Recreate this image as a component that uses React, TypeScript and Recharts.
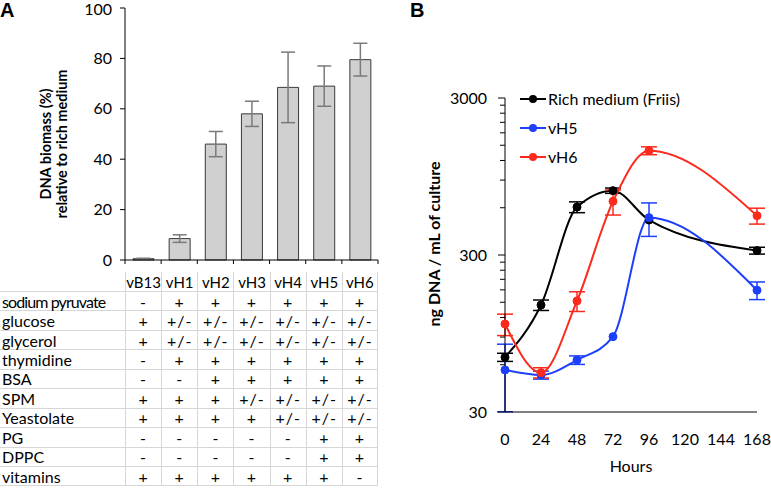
import React from "react";
import {
  BarChart,
  Bar,
  XAxis,
  YAxis,
  ErrorBar,
  LineChart,
  Line,
} from "recharts";

// panel A: biomass relative to rich medium
const categories = ["vB13", "vH1", "vH2", "vH3", "vH4", "vH5", "vH6"];
const biomass = [0.5, 8.5, 46, 58, 68.5, 69, 79.5];
const biomassErr = [0.2, 1.5, 5, 5, 14, 8, 6.5];
const biomassTicks = [0, 20, 40, 60, 80, 100];

// medium composition table
const components = [
  "sodium pyruvate",
  "glucose",
  "glycerol",
  "thymidine",
  "BSA",
  "SPM",
  "Yeastolate",
  "PG",
  "DPPC",
  "vitamins",
];
const composition = [
  ["-", "+", "+", "+", "+", "+", "+"],
  ["+", "+/-", "+/-", "+/-", "+/-", "+/-", "+/-"],
  ["+", "+/-", "+/-", "+/-", "+/-", "+/-", "+/-"],
  ["-", "+", "+", "+", "+", "+", "+"],
  ["-", "-", "+", "+", "+", "+", "+"],
  ["+", "+", "+", "+/-", "+/-", "+/-", "+/-"],
  ["+", "+", "+", "+", "+/-", "+/-", "+/-"],
  ["-", "-", "-", "-", "-", "+", "+"],
  ["-", "-", "-", "-", "-", "+", "+"],
  ["+", "+", "+", "+", "+", "+", "-"],
];

// panel B: growth curves
const hours = [0, 24, 48, 72, 96, 168];
const hourTicks = [0, 24, 48, 72, 96, 120, 144, 168];
const richMean = [67, 144, 606, 771, 501, 320];
const richErr = [4, 11, 48, 30, 0, 16];
const vh5Mean = [55.6, 51.6, 64.3, 90.6, 519, 179];
const vh5Err = [25.5, 3, 4, 0, 125, 23];
const vh6Mean = [109, 53.4, 153, 659, 1386, 534];
const vh6Err = [17, 4, 22, 120, 80, 62];
const dnaTicks = [
  30, 60, 90, 120, 150, 180, 210, 240, 270, 300, 600, 900, 1200, 1500, 1800,
  2100, 2400, 2700, 3000,
];
const dnaMajor = [30, 300, 3000];

const series = [
  { key: "rich", err: "richErr", name: "Rich medium (Friis)", color: "#000000" },
  { key: "vh5", err: "vh5Err", name: "vH5", color: "#1c3ffc" },
  { key: "vh6", err: "vh6Err", name: "vH6", color: "#fb2a1c" },
];

const barData = categories.map((name, i) => ({
  name,
  value: biomass[i],
  err: biomassErr[i],
}));

const lineData = hours.map((h, i) => ({
  h,
  rich: richMean[i],
  richErr: richErr[i],
  vh5: vh5Mean[i],
  vh5Err: vh5Err[i],
  vh6: vh6Mean[i],
  vh6Err: vh6Err[i],
}));

const FONT = "Lato, 'Open Sans', sans-serif";
const GRID = "#d6d6d6";
const STEP = 253 / categories.length;

// tick marks sit between categories, like Excel
const CategoryTick = (props: any) => {
  const { x, y, index } = props;
  return (
    <g>
      <line x1={x - STEP / 2} x2={x - STEP / 2} y1={y} y2={y + 4} stroke="#000" />
      {index === categories.length - 1 && (
        <line x1={x + STEP / 2} x2={x + STEP / 2} y1={y} y2={y + 4} stroke="#000" />
      )}
    </g>
  );
};

const LogTick = (props: any) => {
  const { x, y, payload } = props;
  const major = dnaMajor.includes(payload.value);
  return (
    <g>
      <line x1={x - (major ? 7 : 5)} x2={x} y1={y} y2={y} stroke="#000" />
      {major && (
        <text
          x={x - 18}
          y={y}
          dy="0.35em"
          textAnchor="end"
          fontSize={16}
          fontFamily={FONT}
          fill="#000"
        >
          {payload.value}
        </text>
      )}
    </g>
  );
};

const AxisTitleA = () => (
  <g fontFamily={FONT} fontWeight="bold" fontSize={14.5} fill="#000">
    <text x={45} y={144} textAnchor="middle" dominantBaseline="central" transform="rotate(-90, 45, 144)">
      DNA biomass (%)
    </text>
    <text x={61} y={144} textAnchor="middle" dominantBaseline="central" transform="rotate(-90, 61, 144)">
      relative to rich medium
    </text>
  </g>
);

const AxisTitleB = () => (
  <text
    x={33}
    y={244}
    textAnchor="middle"
    dominantBaseline="central"
    transform="rotate(-90, 33, 244)"
    fontFamily={FONT}
    fontWeight="bold"
    fontSize={16}
    fill="#000"
  >
    ng DNA / mL of culture
  </text>
);

const CompositionTable = () => {
  const cols = `125px repeat(${categories.length}, ${STEP}px)`;
  const cell = (extra: React.CSSProperties) => ({
    boxSizing: "border-box" as const,
    borderBottom: `1px solid ${GRID}`,
    display: "flex",
    alignItems: "center",
    fontSize: 16,
    whiteSpace: "nowrap" as const,
    ...extra,
  });
  const last = categories.length - 1;
  return (
    <div
      style={{
        position: "absolute",
        left: 0,
        top: 272,
        display: "grid",
        gridTemplateColumns: cols,
        gridTemplateRows: `20px repeat(${components.length}, 19.45px)`,
        fontFamily: FONT,
        color: "#000",
      }}
    >
      <div style={cell({})} />
      {categories.map((c, j) => (
        <div
          key={c}
          style={cell({
            borderLeft: `1px solid ${GRID}`,
            borderRight: j === last ? `1px solid ${GRID}` : undefined,
            justifyContent: "center",
            fontSize: 15,
          })}
        >
          {c}
        </div>
      ))}
      {components.map((name, i) => (
        <React.Fragment key={name}>
          <div
            style={cell({
              paddingLeft: 2,
              letterSpacing: name === "sodium pyruvate" ? -0.9 : 0,
            })}
          >
            {name}
          </div>
          {composition[i].map((v, j) => (
            <div
              key={j}
              style={cell({
                borderLeft: `1px solid ${GRID}`,
                borderRight: j === last ? `1px solid ${GRID}` : undefined,
                justifyContent: "center",
                letterSpacing: 1,
              })}
            >
              {v}
            </div>
          ))}
        </React.Fragment>
      ))}
    </div>
  );
};

const GrowthLegend = () => (
  <div style={{ position: "absolute", left: 520, top: 84, fontFamily: FONT }}>
    {series.map((s) => (
      <div key={s.key} style={{ display: "flex", alignItems: "center", height: 29 }}>
        <svg width={28} height={12}>
          <line x1={0} x2={26} y1={6} y2={6} stroke={s.color} strokeWidth={2} />
          <circle cx={13} cy={6} r={4} fill={s.color} />
        </svg>
        <span style={{ fontSize: 16, color: "#000" }}>{s.name}</span>
      </div>
    ))}
  </div>
);

const App = () => {
  return (
    <div
      style={{
        position: "absolute",
        left: 0,
        top: 0,
        width: 771,
        height: 490,
        background: "#fff",
        overflow: "hidden",
      }}
    >
      <div style={{ position: "absolute", left: 0, top: 0, fontFamily: "'Liberation Sans', Arial", fontWeight: "bold", fontSize: 20, lineHeight: "20px" }}>
        A
      </div>
      <div style={{ position: "absolute", left: 410, top: 0, fontFamily: "'Liberation Sans', Arial", fontWeight: "bold", fontSize: 20, lineHeight: "20px" }}>
        B
      </div>

      <div style={{ position: "absolute", left: 0, top: 0 }}>
        <BarChart
          width={400}
          height={270}
          data={barData}
          margin={{ top: 8, right: 22, left: 0, bottom: 0 }}
        >
          <XAxis
            dataKey="name"
            height={10}
            tickLine={false}
            tickSize={0}
            tickMargin={0}
            tick={<CategoryTick />}
            axisLine={{ stroke: "#000" }}
          />
          <YAxis
            width={125}
            domain={[0, 100]}
            ticks={biomassTicks}
            tickSize={5}
            tickMargin={8}
            tick={{ fill: "#000", fontSize: 16, fontFamily: FONT }}
            axisLine={{ stroke: "#000" }}
            tickLine={{ stroke: "#000" }}
            label={{ content: <AxisTitleA /> }}
          />
          <Bar
            dataKey="value"
            barSize={21}
            fill="#d0d0d0"
            stroke="#3a3a3a"
            strokeWidth={1}
            isAnimationActive={false}
          >
            <ErrorBar dataKey="err" width={7} stroke="#7a7a7a" strokeWidth={1.5} />
          </Bar>
        </BarChart>
      </div>

      <CompositionTable />

      <div style={{ position: "absolute", left: 400, top: 0 }}>
        <LineChart
          width={371}
          height={490}
          data={lineData}
          margin={{ top: 98, right: 14, left: 0, bottom: 12 }}
        >
          <XAxis
            dataKey="h"
            type="number"
            domain={[0, 168]}
            ticks={hourTicks}
            interval={0}
            height={66}
            tickLine={false}
            tickSize={6}
            tickMargin={16}
            tick={{ fill: "#000", fontSize: 16, fontFamily: FONT }}
            axisLine={{ stroke: "#000" }}
            label={{
              value: "Hours",
              position: "insideBottom",
              offset: 6,
              fill: "#000",
              fontSize: 16,
              fontFamily: FONT,
            }}
          />
          <YAxis
            width={105}
            scale="log"
            domain={[30, 3000]}
            ticks={dnaTicks}
            interval={0}
            allowDataOverflow
            tickLine={false}
            tickSize={0}
            tickMargin={0}
            tick={<LogTick />}
            axisLine={{ stroke: "#000" }}
            label={{ content: <AxisTitleB /> }}
          />
          {series.map((s) => (
            <Line
              key={s.key}
              type="monotone"
              dataKey={s.key}
              name={s.name}
              stroke={s.color}
              strokeWidth={2}
              dot={{ r: 4, fill: s.color, stroke: s.color, strokeWidth: 1 }}
              isAnimationActive={false}
            >
              <ErrorBar dataKey={s.err} direction="y" width={8} stroke={s.color} strokeWidth={1.5} />
            </Line>
          ))}
        </LineChart>
      </div>

      <GrowthLegend />
    </div>
  );
};

export default App;
